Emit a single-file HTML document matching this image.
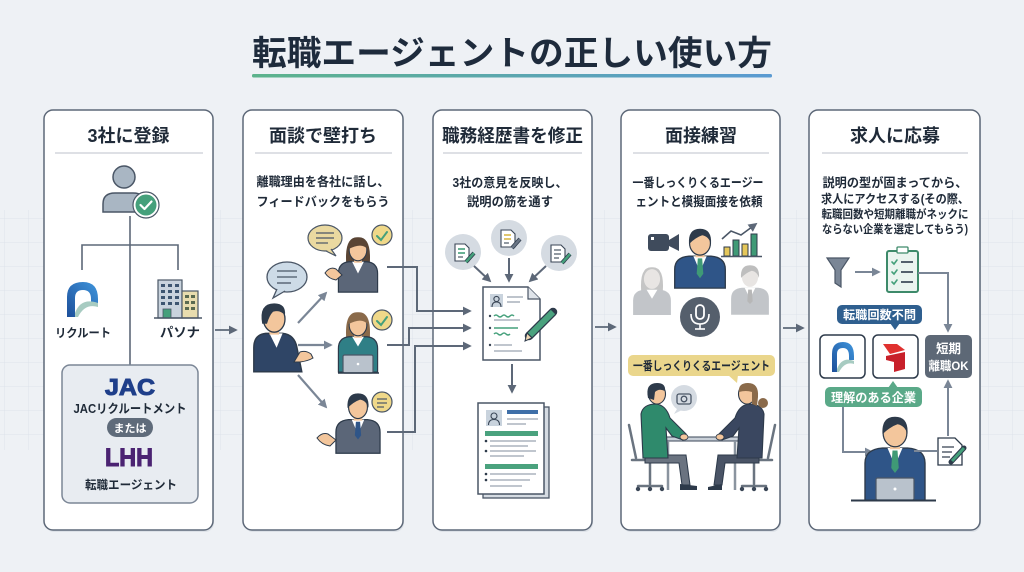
<!DOCTYPE html>
<html><head><meta charset="utf-8">
<style>
html,body{margin:0;padding:0;background:#eef1f5;}
svg{display:block;}
text{font-family:"Liberation Sans","Noto Sans CJK JP",sans-serif;font-weight:bold;fill:#1f2a38;}
</style></head><body>
<svg width="1024" height="572" viewBox="0 0 1024 572" xmlns="http://www.w3.org/2000/svg">
<defs>
<linearGradient id="ul" x1="0" x2="1" y1="0" y2="0"><stop offset="0" stop-color="#5cb38c"/><stop offset="1" stop-color="#5a9ad2"/></linearGradient>
<linearGradient id="rc" x1="0" x2="1" y1="1" y2="0"><stop offset="0" stop-color="#1d4f9a"/><stop offset="1" stop-color="#3f95dc"/></linearGradient>
<pattern id="grid" width="24" height="24" patternUnits="userSpaceOnUse" x="4" y="2"><path d="M24 0 L0 0 0 24" fill="none" stroke="#dde3ea" stroke-width="1"/></pattern>
<marker id="a" viewBox="0 0 10 10" refX="8" refY="5" markerWidth="9" markerHeight="9" markerUnits="userSpaceOnUse" orient="auto"><path d="M0,0 L10,5 L0,10 Z" fill="#5d6878"/></marker>
<marker id="b" viewBox="0 0 10 10" refX="8" refY="5" markerWidth="9" markerHeight="9" markerUnits="userSpaceOnUse" orient="auto"><path d="M0,0 L10,5 L0,10 Z" fill="#7a8696"/></marker>
</defs>

<rect width="1024" height="572" fill="#eef1f5"/>
<rect x="0" y="210" width="1024" height="240" fill="url(#grid)"/>

<!-- Title -->
<text x="512" y="65" text-anchor="middle" font-size="34" textLength="520" lengthAdjust="spacingAndGlyphs" style="fill:#1e2b3c">転職エージェントの正しい使い方</text>
<rect x="252" y="74" width="520" height="3.5" rx="1.5" fill="url(#ul)"/>

<!-- Panels -->
<g fill="#dde2e8">
<rect x="45" y="112" width="169" height="420" rx="9"/>
<rect x="244" y="112" width="160" height="420" rx="9"/>
<rect x="434" y="112" width="159" height="420" rx="9"/>
<rect x="622" y="112" width="159" height="420" rx="9"/>
<rect x="810" y="112" width="171" height="420" rx="9"/>
</g>
<g fill="#ffffff" stroke="#5d6878" stroke-width="1.5">
<rect x="44" y="110" width="169" height="420" rx="9"/>
<rect x="243" y="110" width="160" height="420" rx="9"/>
<rect x="433" y="110" width="159" height="420" rx="9"/>
<rect x="621" y="110" width="159" height="420" rx="9"/>
<rect x="809" y="110" width="171" height="420" rx="9"/>
</g>
<g stroke="#c9ced5" stroke-width="1.2">
<line x1="55" y1="153" x2="203" y2="153"/>
<line x1="255" y1="153" x2="392" y2="153"/>
<line x1="443" y1="153" x2="582" y2="153"/>
<line x1="633" y1="153" x2="769" y2="153"/>
<line x1="822" y1="153" x2="968" y2="153"/>
</g>

<!-- Headers -->
<text x="128.5" y="142" text-anchor="middle" font-size="18">3社に登録</text>
<text x="323" y="142" text-anchor="middle" font-size="18">面談で壁打ち</text>
<text x="512.5" y="142" text-anchor="middle" font-size="18" textLength="141" lengthAdjust="spacingAndGlyphs">職務経歴書を修正</text>
<text x="701" y="142" text-anchor="middle" font-size="18">面接練習</text>
<text x="895" y="142" text-anchor="middle" font-size="18">求人に応募</text>

<!-- Subtexts -->
<text x="323" y="186" text-anchor="middle" font-size="12.5" textLength="133" lengthAdjust="spacingAndGlyphs">離職理由を各社に話し、</text>
<text x="323" y="206" text-anchor="middle" font-size="12.5" textLength="133" lengthAdjust="spacingAndGlyphs">フィードバックをもらう</text>
<text x="510" y="187" text-anchor="middle" font-size="12.5" textLength="115" lengthAdjust="spacingAndGlyphs">3社の意見を反映し、</text>
<text x="510" y="206" text-anchor="middle" font-size="12.5" textLength="86" lengthAdjust="spacingAndGlyphs">説明の筋を通す</text>
<text x="698" y="187" text-anchor="middle" font-size="12.5" textLength="131" lengthAdjust="spacingAndGlyphs">一番しっくりくるエージー</text>
<text x="699" y="206" text-anchor="middle" font-size="12.5" textLength="127" lengthAdjust="spacingAndGlyphs">ェントと模擬面接を依頼</text>
<text x="895" y="187" text-anchor="middle" font-size="12.5" textLength="145" lengthAdjust="spacingAndGlyphs">説明の型が固まってから、</text>
<text x="895" y="203" text-anchor="middle" font-size="12" textLength="148" lengthAdjust="spacingAndGlyphs">求人にアクセスする(その際、</text>
<text x="895" y="218" text-anchor="middle" font-size="11.5" textLength="147" lengthAdjust="spacingAndGlyphs">転職回数や短期離職がネックに</text>
<text x="895" y="233" text-anchor="middle" font-size="11.5" textLength="146" lengthAdjust="spacingAndGlyphs">ならない企業を選定してもらう)</text>

<!-- Between-panel arrows -->
<g stroke="#5d6878" stroke-width="1.8" fill="none">
<line x1="215" y1="330" x2="236" y2="330" marker-end="url(#a)"/>
<line x1="595" y1="327" x2="615" y2="327" marker-end="url(#a)"/>
<line x1="783" y1="328" x2="803" y2="328" marker-end="url(#a)"/>
</g>

<!-- ===== Panel 1 ===== -->
<g stroke="#5d6878" stroke-width="1.6" fill="none">
<path d="M130,216 L130,365"/>
<path d="M82,270 L82,245 L178,245 L178,270"/>
</g>
<circle cx="124" cy="177" r="11" fill="#a9b6c3" stroke="#4a5666" stroke-width="1.5"/>
<path d="M103,212 L103,204 Q103,193 115,193 L133,193 Q145,193 145,204 L145,212 Z" fill="#a9b6c3" stroke="#4a5666" stroke-width="1.5"/>
<circle cx="146" cy="205" r="13" fill="#fff" stroke="#4a5666" stroke-width="1.2"/>
<circle cx="146" cy="205" r="10.5" fill="#45a07b"/>
<path d="M140.5,205 L144.5,209 L151.5,201.5" fill="none" stroke="#fff" stroke-width="2.2" stroke-linecap="round" stroke-linejoin="round"/>

<!-- Recruit logo -->
<path d="M67,317 L67,297 Q67,282 83,282 Q98,282 98,299 L98,305 L91,305 L91,299 Q91,290 83,290 Q75,290 75,298 L75,317 Z" fill="url(#rc)"/>
<path d="M75,313 Q81,297 98,303 L98,307 Q85,303 78,317 L75,317 Z" fill="#a7cbc1"/>
<text x="83" y="337" text-anchor="middle" font-size="12" textLength="56" lengthAdjust="spacingAndGlyphs">リクルート</text>

<!-- Building -->
<rect x="158" y="280" width="24" height="38" fill="#c9d3dd" stroke="#4a5666" stroke-width="1.2"/>
<g fill="#3d5570">
<rect x="161" y="284" width="4" height="3"/><rect x="168" y="284" width="4" height="3"/><rect x="175" y="284" width="4" height="3"/>
<rect x="161" y="290" width="4" height="3"/><rect x="168" y="290" width="4" height="3"/><rect x="175" y="290" width="4" height="3"/>
<rect x="161" y="296" width="4" height="3"/><rect x="168" y="296" width="4" height="3"/><rect x="175" y="296" width="4" height="3"/>
<rect x="161" y="302" width="4" height="3"/><rect x="168" y="302" width="4" height="3"/><rect x="175" y="302" width="4" height="3"/>
</g>
<rect x="182" y="291" width="16" height="27" fill="#e8dcae" stroke="#4a5666" stroke-width="1.2"/>
<g fill="#5a6a50">
<rect x="185" y="295" width="4" height="3"/><rect x="191" y="295" width="4" height="3"/>
<rect x="185" y="301" width="4" height="3"/><rect x="191" y="301" width="4" height="3"/>
<rect x="185" y="307" width="4" height="3"/><rect x="191" y="307" width="4" height="3"/>
</g>
<rect x="163" y="309" width="8" height="9" fill="#45a07b" stroke="#4a5666" stroke-width="0.8"/>
<line x1="154" y1="318" x2="202" y2="318" stroke="#4a5666" stroke-width="1.5"/>
<text x="180" y="337" text-anchor="middle" font-size="13" textLength="40" lengthAdjust="spacingAndGlyphs">パソナ</text>

<!-- JAC box -->
<rect x="62" y="365" width="136" height="138" rx="8" fill="#e8ecf1" stroke="#7b8696" stroke-width="1.5"/>
<text x="130" y="395" text-anchor="middle" font-size="23" textLength="50" lengthAdjust="spacingAndGlyphs" style="fill:#1f3f8a;stroke:#1f3f8a;stroke-width:1;font-family:'Liberation Sans',sans-serif">JAC</text>
<text x="130" y="413" text-anchor="middle" font-size="12.5" textLength="113" lengthAdjust="spacingAndGlyphs">JACリクルートメント</text>
<rect x="107" y="418" width="46" height="19" rx="9.5" fill="#5f6b7a"/>
<text x="130" y="432" text-anchor="middle" font-size="11" style="fill:#fff">または</text>
<text x="129" y="466" text-anchor="middle" font-size="25" textLength="48" lengthAdjust="spacingAndGlyphs" style="fill:#4b2372;stroke:#4b2372;stroke-width:1;font-family:'Liberation Sans',sans-serif">LHH</text>
<text x="131" y="489" text-anchor="middle" font-size="12" textLength="92" lengthAdjust="spacingAndGlyphs">転職エージェント</text>

<!-- ===== Panel 2 ===== -->
<ellipse cx="287" cy="277" rx="20" ry="15" fill="#cddbe7" stroke="#4a5666" stroke-width="1.3"/>
<path d="M277,289 L273,298 L285,291" fill="#cddbe7" stroke="#4a5666" stroke-width="1.3"/>
<g stroke="#4a5666" stroke-width="1.3"><line x1="277" y1="271" x2="297" y2="271"/><line x1="277" y1="277" x2="297" y2="277"/><line x1="277" y1="283" x2="291" y2="283"/></g>

<g transform="translate(273,319) scale(1.2)">
<path d="M-16,44 L-16,24 Q-16,13 -6,12 L8,12 Q18,13 20,24 L24,44 Z" fill="#2f4566" stroke="#2d3a4a" stroke-width="1.2"/>
<path d="M-3,12 L3,24 L8,12 Z" fill="#fff"/>
<rect x="-3" y="6" width="8" height="7" fill="#f3c69c"/>
<ellipse cx="1" cy="0" rx="9" ry="11" fill="#f3c69c" stroke="#2d3a4a" stroke-width="1.1"/>
<path d="M-9,4 Q-12,-13 1,-13 Q11,-13 10,-3 Q6,-8 0,-6 Q-3,-3 -5,4 Z" fill="#2d3a4a"/>
</g>
<path d="M294,362 L300,352 Q306,350 311,354 L313,358 Q308,361 300,362 Z" fill="#f3c69c" stroke="#2d3a4a" stroke-width="1"/>

<g stroke="#7a8696" stroke-width="2.2" fill="none">
<line x1="298" y1="323" x2="326" y2="293" marker-end="url(#b)"/>
<line x1="298" y1="345" x2="331" y2="345" marker-end="url(#b)"/>
<line x1="298" y1="375" x2="326" y2="407" marker-end="url(#b)"/>
</g>

<ellipse cx="325" cy="238" rx="17" ry="13" fill="#ead9a0" stroke="#4a5666" stroke-width="1.2"/>
<path d="M331,249 L336,256 L326,251" fill="#ead9a0" stroke="#4a5666" stroke-width="1.2"/>
<g stroke="#4a5666" stroke-width="1.2"><line x1="316" y1="233" x2="334" y2="233"/><line x1="316" y1="238" x2="334" y2="238"/><line x1="316" y1="243" x2="328" y2="243"/></g>
<g transform="translate(358,250) scale(0.98)">
<path d="M-12,14 Q-14,-14 0,-13 Q14,-14 12,14 Z" fill="#5a4535"/>
<path d="M-20,43 L-20,24 Q-20,13 -9,12 L9,12 Q20,13 20,24 L20,43 Z" fill="#5b6678" stroke="#2d3a4a" stroke-width="1.2"/>
<path d="M-6,12 L0,24 L6,12 Z" fill="#fff"/>
<rect x="-4" y="6" width="8" height="7" fill="#f3c69c"/>
<ellipse cx="0" cy="0" rx="9" ry="11" fill="#f3c69c" stroke="#2d3a4a" stroke-width="1.1"/>
<path d="M-9.5,-1 Q-9,-12 0,-12 Q9,-12 9.5,-1 Q4,-8 -9.5,-1 Z" fill="#5a4535"/>
</g>
<path d="M325,273 Q330,266 336,269 L342,275 L336,280 Q329,279 325,273 Z" fill="#f3c69c" stroke="#2d3a4a" stroke-width="1"/>
<circle cx="382" cy="235" r="10" fill="#efd889" stroke="#4a5666" stroke-width="1.2"/>
<path d="M377,236 L381,240 L387,232" fill="none" stroke="#45a07b" stroke-width="2" stroke-linecap="round"/>

<g transform="translate(358,325) scale(0.98)">
<path d="M-12,14 Q-14,-14 0,-13 Q14,-14 12,14 Z" fill="#8a6a4a"/>
<path d="M-20,48 L-20,24 Q-20,13 -9,12 L9,12 Q20,13 20,24 L20,48 Z" fill="#2f7f86" stroke="#2d3a4a" stroke-width="1.2"/>
<path d="M-6,12 L0,22 L6,12 Z" fill="#fff"/>
<rect x="-4" y="6" width="8" height="7" fill="#f3c69c"/>
<ellipse cx="0" cy="0" rx="9" ry="11" fill="#f3c69c" stroke="#2d3a4a" stroke-width="1.1"/>
<path d="M-9.5,-1 Q-9,-12 0,-12 Q9,-12 9.5,-1 Q4,-8 -9.5,-1 Z" fill="#8a6a4a"/>
</g>
<rect x="343" y="355" width="30" height="18" rx="1.5" fill="#b9c2cc" stroke="#4a5666" stroke-width="1.2"/>
<circle cx="358" cy="364" r="1.3" fill="#fff"/>
<line x1="338" y1="373" x2="379" y2="373" stroke="#2d3a4a" stroke-width="1.5"/>
<circle cx="382" cy="320" r="10" fill="#efd889" stroke="#4a5666" stroke-width="1.2"/>
<path d="M377,321 L381,325 L387,317" fill="none" stroke="#45a07b" stroke-width="2" stroke-linecap="round"/>

<g transform="translate(358,407) scale(1.05)">
<path d="M-21,44 L-21,24 Q-21,13 -9,12 L9,12 Q21,13 21,24 L21,44 Z" fill="#5b6678" stroke="#2d3a4a" stroke-width="1.2"/>
<path d="M-6,12 L0,26 L6,12 Z" fill="#fff"/>
<path d="M-2,14 L2,14 L3,27 L0,31 L-3,27 Z" fill="#2f5588"/>
<rect x="-4" y="6" width="8" height="7" fill="#f3c69c"/>
<ellipse cx="0" cy="0" rx="9" ry="11" fill="#f3c69c" stroke="#2d3a4a" stroke-width="1.1"/>
<path d="M-10,1 Q-11,-13 0,-13 Q11,-13 10,1 Q8,-6 2,-7 Q-4,-5 -10,1 Z" fill="#2d3a4a"/>
</g>
<path d="M317,438 Q322,432 328,434 L336,440 L330,446 Q322,445 317,438 Z" fill="#f3c69c" stroke="#2d3a4a" stroke-width="1"/>
<circle cx="382" cy="402" r="10" fill="#efd889" stroke="#4a5666" stroke-width="1.2"/>
<g stroke="#4a5666" stroke-width="1.2"><line x1="377" y1="399" x2="387" y2="399"/><line x1="377" y1="403" x2="387" y2="403"/><line x1="377" y1="407" x2="384" y2="407"/></g>

<g stroke="#5d6878" stroke-width="2" fill="none">
<path d="M387,267 L417,267 L417,311 L470,311" marker-end="url(#a)"/>
<path d="M387,345 L409,345 L409,328 L470,328" marker-end="url(#a)"/>
<path d="M387,432 L415,432 L415,346 L470,346" marker-end="url(#a)"/>
</g>

<!-- ===== Panel 3 ===== -->
<g fill="#d5dbe2">
<circle cx="463" cy="252" r="18"/><circle cx="509" cy="238" r="18"/><circle cx="559" cy="253" r="18"/>
</g>
<g stroke="#3a4656" stroke-width="1.1">
<path d="M455,244 L465,244 L469,248 L469,261 L455,261 Z" fill="#fff"/>
<line x1="458" y1="249" x2="465" y2="249" stroke="#45a07b" stroke-width="1.6"/>
<line x1="458" y1="253" x2="465" y2="253" stroke="#45a07b" stroke-width="1.6"/>
<line x1="458" y1="257" x2="463" y2="257"/>
<line x1="466" y1="262" x2="474" y2="253" stroke="#2d3a4a" stroke-width="4"/>
<line x1="466" y1="262" x2="474" y2="253" stroke="#45a07b" stroke-width="2.5"/>
<path d="M501,230 L511,230 L515,234 L515,247 L501,247 Z" fill="#fff"/>
<line x1="504" y1="235" x2="511" y2="235" stroke="#d8b84a" stroke-width="1.6"/>
<line x1="504" y1="239" x2="511" y2="239" stroke="#d8b84a" stroke-width="1.6"/>
<line x1="504" y1="243" x2="509" y2="243"/>
<line x1="512" y1="248" x2="520" y2="239" stroke="#2d3a4a" stroke-width="4"/>
<line x1="512" y1="248" x2="520" y2="239" stroke="#6a7686" stroke-width="2.5"/>
<path d="M551,245 L561,245 L565,249 L565,262 L551,262 Z" fill="#fff"/>
<line x1="554" y1="250" x2="561" y2="250"/>
<line x1="554" y1="254" x2="561" y2="254"/>
<line x1="554" y1="258" x2="559" y2="258"/>
<line x1="562" y1="263" x2="570" y2="254" stroke="#2d3a4a" stroke-width="4"/>
<line x1="562" y1="263" x2="570" y2="254" stroke="#45a07b" stroke-width="2.5"/>
</g>
<g stroke="#5d6878" stroke-width="2" fill="none">
<line x1="474" y1="266" x2="490" y2="281" marker-end="url(#a)"/>
<line x1="509" y1="258" x2="509" y2="281" marker-end="url(#a)"/>
<line x1="546" y1="266" x2="530" y2="281" marker-end="url(#a)"/>
</g>
<path d="M483,287 L528,287 L540,299 L540,360 L483,360 Z" fill="#fff" stroke="#4a5666" stroke-width="1.5"/>
<path d="M528,287 L528,299 L540,299" fill="#dfe4ea" stroke="#4a5666" stroke-width="1.2"/>
<rect x="490" y="294" width="13" height="13" fill="#c9d3dd"/>
<circle cx="496.5" cy="299" r="2.6" fill="none" stroke="#3a4656" stroke-width="1.1"/>
<path d="M492,307 Q492,302 496.5,302 Q501,302 501,307" fill="none" stroke="#3a4656" stroke-width="1.1"/>
<g stroke="#9aa4b0" stroke-width="1.3">
<line x1="507" y1="297" x2="523" y2="297"/><line x1="507" y1="302" x2="520" y2="302"/>
<line x1="494" y1="320" x2="520" y2="320"/><line x1="494" y1="345" x2="512" y2="345"/><line x1="494" y1="351" x2="522" y2="351"/>
</g>
<g fill="#3a4656"><circle cx="490" cy="316" r="1.2"/><circle cx="490" cy="328" r="1.2"/><circle cx="490" cy="345" r="1.2"/></g>
<g stroke="#45a07b" stroke-width="1.5" fill="none">
<path d="M494,316 q2,-2 4,0 t4,0 t4,0 t4,0 t4,0"/>
<line x1="494" y1="328" x2="518" y2="328"/>
<path d="M494,334 q2,-2 4,0 t4,0 t4,0 t4,0"/>
</g>
<line x1="529" y1="336" x2="553" y2="312" stroke="#2d3a4a" stroke-width="8.5" stroke-linecap="round"/>
<line x1="530" y1="335" x2="553" y2="312" stroke="#4aa27e" stroke-width="6"/>
<path d="M527,333 L532,338 L525,341 Z" fill="#f0d9b5" stroke="#2d3a4a" stroke-width="1"/>
<line x1="512" y1="364" x2="512" y2="392" stroke="#5d6878" stroke-width="2" marker-end="url(#a)"/>
<rect x="483" y="407" width="66" height="91" fill="#d5dbe2" stroke="#4a5666" stroke-width="1.3"/>
<rect x="478" y="403" width="66" height="91" fill="#fff" stroke="#4a5666" stroke-width="1.5"/>
<rect x="486" y="410" width="16" height="16" fill="#c9d3dd"/>
<circle cx="494" cy="416" r="3" fill="none" stroke="#3a4656" stroke-width="1.1"/>
<path d="M488.5,425 Q488.5,419.5 494,419.5 Q499.5,419.5 499.5,425" fill="none" stroke="#3a4656" stroke-width="1.1"/>
<rect x="507" y="410" width="31" height="4" fill="#3f6fa8"/>
<g stroke="#9aa4b0" stroke-width="1.3">
<line x1="507" y1="419" x2="538" y2="419"/><line x1="507" y1="424" x2="526" y2="424"/>
<line x1="490" y1="441" x2="536" y2="441"/><line x1="490" y1="446" x2="528" y2="446"/><line x1="490" y1="451" x2="536" y2="451"/><line x1="490" y1="456" x2="524" y2="456"/>
<line x1="490" y1="474" x2="536" y2="474"/><line x1="490" y1="480" x2="530" y2="480"/><line x1="490" y1="486" x2="522" y2="486"/>
</g>
<rect x="485" y="431" width="53" height="5" fill="#4aa27e"/>
<rect x="485" y="464" width="53" height="5" fill="#4aa27e"/>
<g fill="#2d3a4a"><circle cx="486" cy="441" r="1.3"/><circle cx="486" cy="451" r="1.3"/><circle cx="486" cy="474" r="1.3"/><circle cx="486" cy="480" r="1.3"/></g>

<!-- ===== Panel 4 ===== -->
<rect x="648" y="234" width="21" height="17" rx="3" fill="#3f4b5c"/>
<path d="M669,240 L679,234 L679,251 L669,246 Z" fill="#3f4b5c"/>
<rect x="651" y="237" width="3" height="3" fill="#fff"/>
<g opacity="0.42">
<g transform="translate(652,279) scale(0.9)">
<path d="M-12,14 Q-14,-14 0,-13 Q14,-14 12,14 Z" fill="#777"/>
<path d="M-21,40 L-21,24 Q-21,13 -9,12 L9,12 Q21,13 21,24 L21,40 Z" fill="#6f7780"/>
<path d="M-6,12 L0,22 L6,12 Z" fill="#fff"/>
<ellipse cx="0" cy="0" rx="9" ry="11" fill="#c9c3be"/>
</g>
<g transform="translate(750,277) scale(0.9)">
<path d="M-21,42 L-21,24 Q-21,13 -9,12 L9,12 Q21,13 21,24 L21,42 Z" fill="#6f7780"/>
<path d="M-6,12 L0,24 L6,12 Z" fill="#fff"/>
<path d="M-2,14 L2,14 L3,27 L0,30 L-3,27 Z" fill="#555"/>
<ellipse cx="0" cy="0" rx="9" ry="11" fill="#c9c3be"/>
<path d="M-10,1 Q-11,-13 0,-13 Q11,-13 10,1 Q8,-6 2,-7 Q-4,-5 -10,1 Z" fill="#666"/>
</g>
</g>
<g transform="translate(700,243) scale(1.1)">
<path d="M-23,41 L-23,24 Q-23,13 -10,12 L10,12 Q23,13 23,24 L23,41 Z" fill="#2f5588" stroke="#2d3a4a" stroke-width="1.2"/>
<path d="M-6,12 L0,26 L6,12 Z" fill="#fff"/>
<path d="M-2,14 L2,14 L3,28 L0,32 L-3,28 Z" fill="#3f9a76"/>
<rect x="-4" y="6" width="8" height="7" fill="#f3c69c"/>
<ellipse cx="0" cy="0" rx="9.5" ry="11" fill="#f3c69c" stroke="#2d3a4a" stroke-width="1.1"/>
<path d="M-10,1 Q-11,-13 0,-13 Q11,-13 10,1 Q8,-6 2,-7 Q-4,-5 -10,1 Z" fill="#2d3a4a"/>
</g>
<g stroke="#2d3a4a" stroke-width="1">
<rect x="724" y="247" width="6" height="9" fill="#e5c75a"/>
<rect x="733" y="240" width="6" height="16" fill="#3f9a76"/>
<rect x="742" y="244" width="6" height="12" fill="#e5c75a"/>
<rect x="751" y="234" width="6" height="22" fill="#3f9a76"/>
</g>
<line x1="721" y1="256.5" x2="762" y2="256.5" stroke="#4a5666" stroke-width="1.5"/>
<polyline points="722,239 731,231 741,235 756,224" fill="none" stroke="#4a5666" stroke-width="1.6" marker-end="url(#a)"/>
<circle cx="700" cy="317" r="20" fill="#555f6c"/>
<rect x="696" y="305" width="8" height="14" rx="4" fill="none" stroke="#fff" stroke-width="1.8"/>
<path d="M691,314 Q691,324 700,324 Q709,324 709,314" fill="none" stroke="#fff" stroke-width="1.6"/>
<line x1="700" y1="324" x2="700" y2="329" stroke="#fff" stroke-width="1.6"/>
<line x1="695" y1="329" x2="705" y2="329" stroke="#fff" stroke-width="1.6"/>
<rect x="628" y="355" width="147" height="21" rx="5" fill="#ead68c"/>
<path d="M728,375 L738,375 L737,383 Z" fill="#ead68c"/>
<text x="701.5" y="370" text-anchor="middle" font-size="12" textLength="137" lengthAdjust="spacingAndGlyphs">一番しっくりくるエージェント</text>
<circle cx="684" cy="398" r="13" fill="#d5dbe2"/>
<path d="M677,409 L674,414 L682,410" fill="#d5dbe2"/>
<rect x="677" y="394" width="14" height="10" rx="2" fill="none" stroke="#4a5666" stroke-width="1.3"/>
<circle cx="684" cy="399" r="2.8" fill="none" stroke="#4a5666" stroke-width="1.3"/>
<rect x="663" y="437" width="77" height="4" fill="#c9d0d8" stroke="#4a5666" stroke-width="1.1"/>
<g stroke="#8a949f" stroke-width="2.5"><line x1="668" y1="441" x2="668" y2="490"/><line x1="735" y1="441" x2="735" y2="490"/></g>
<g stroke="#6a7480" stroke-width="2.5" fill="none" stroke-linecap="round">
<line x1="629" y1="425" x2="636" y2="458"/>
<line x1="632" y1="460" x2="668" y2="460"/>
<line x1="650" y1="460" x2="650" y2="484"/>
<line x1="638" y1="486" x2="662" y2="486"/>
</g>
<g fill="#3a4656"><circle cx="638" cy="489" r="2.2"/><circle cx="650" cy="489" r="2.2"/><circle cx="662" cy="489" r="2.2"/></g>
<path d="M645,455 L686,455 L690,485 L682,485 L679,463 L645,463 Z" fill="#6a7380" stroke="#2d3a4a" stroke-width="1"/>
<path d="M680,484 L697,486 L697,490 L680,490 Z" fill="#2d3a4a"/>
<path d="M641,414 Q643,404 656,404 Q666,405 670,418 L686,434 L683,440 L672,436 L666,428 L668,458 L643,458 Z" fill="#2f8a6c" stroke="#2d3a4a" stroke-width="1.1"/>
<ellipse cx="684" cy="437" rx="4" ry="3" fill="#f3c69c" stroke="#2d3a4a" stroke-width="0.8"/>
<ellipse cx="657" cy="394" rx="8.5" ry="10" fill="#f3c69c" stroke="#2d3a4a" stroke-width="1.1"/>
<path d="M648,398 Q645,383 657,383 Q666,383 665,391 Q659,388 655,392 L654,400 Z" fill="#2d3a4a"/>
<g stroke="#6a7480" stroke-width="2.5" fill="none" stroke-linecap="round">
<line x1="775" y1="425" x2="768" y2="458"/>
<line x1="736" y1="460" x2="772" y2="460"/>
<line x1="754" y1="460" x2="754" y2="484"/>
<line x1="742" y1="486" x2="766" y2="486"/>
</g>
<g fill="#3a4656"><circle cx="742" cy="489" r="2.2"/><circle cx="754" cy="489" r="2.2"/><circle cx="766" cy="489" r="2.2"/></g>
<path d="M759,455 L718,455 L714,485 L722,485 L725,463 L759,463 Z" fill="#4a5466" stroke="#2d3a4a" stroke-width="1"/>
<path d="M722,484 L708,487 L708,490 L722,490 Z" fill="#2d3a4a"/>
<path d="M764,414 Q762,404 749,404 Q739,405 735,418 L719,434 L722,440 L733,436 L739,428 L737,458 L762,458 Z" fill="#3a4760" stroke="#2d3a4a" stroke-width="1.1"/>
<ellipse cx="720" cy="437" rx="4" ry="3" fill="#f3c69c" stroke="#2d3a4a" stroke-width="0.8"/>
<circle cx="763" cy="403" r="5" fill="#8a6a4a"/>
<ellipse cx="747" cy="394" rx="8.5" ry="10" fill="#f3c69c" stroke="#2d3a4a" stroke-width="1.1"/>
<path d="M739,392 Q738,383 748,383 Q759,383 758,397 L757,406 L752,404 L752,392 Q746,390 739,392 Z" fill="#8a6a4a"/>

<!-- ===== Panel 5 ===== -->
<path d="M827,258 L849,258 L841,270 L841,287 L835,283 L835,270 Z" fill="#7a8696" stroke="#4a5666" stroke-width="1.2"/>
<line x1="855" y1="272" x2="879" y2="272" stroke="#7a8696" stroke-width="2" marker-end="url(#b)"/>
<rect x="887" y="251" width="31" height="41" rx="2" fill="#eaf4ef" stroke="#3d8a6a" stroke-width="2"/>
<rect x="897" y="247" width="11" height="6" rx="1" fill="#fff" stroke="#3d8a6a" stroke-width="1.3"/>
<g stroke="#45a07b" stroke-width="1.6" fill="none" stroke-linecap="round">
<path d="M892,262 L894,264 L897,260"/><path d="M892,272 L894,274 L897,270"/><path d="M892,282 L894,284 L897,280"/>
</g>
<g stroke="#2d3a4a" stroke-width="1.6"><line x1="901" y1="262" x2="913" y2="262"/><line x1="901" y1="272" x2="913" y2="272"/><line x1="901" y1="282" x2="913" y2="282"/></g>
<path d="M918,273 L948,273 L948,331" fill="none" stroke="#7a8696" stroke-width="2" marker-end="url(#b)"/>

<rect x="837" y="305" width="85" height="19" rx="5" fill="#2f5f8f"/>
<path d="M890,323 L900,323 L895,330 Z" fill="#2f5f8f"/>
<text x="879.5" y="319" text-anchor="middle" font-size="12" textLength="73" lengthAdjust="spacingAndGlyphs" style="fill:#fff">転職回数不問</text>

<rect x="820" y="335" width="45" height="43" rx="5" fill="#fff" stroke="#2d3a4a" stroke-width="1.5"/>
<path d="M832,372 L832,354 Q832,342 843,342 Q854,342 854,356 L854,360 L849,360 L849,356 Q849,348 843,348 Q837,348 837,354 L837,372 Z" fill="url(#rc)"/>
<path d="M837,369 Q842,356 854,361 L854,364 Q845,361 839,372 L837,372 Z" fill="#a7cbc1"/>
<rect x="873" y="335" width="45" height="43" rx="5" fill="#fff" stroke="#2d3a4a" stroke-width="1.5"/>
<path d="M883,344 L897,344 L905,350 L890,354 Z" fill="#e0312f"/>
<path d="M886,356 L905,352 L905,369 L894,372 L894,362 L886,360 Z" fill="#c8202a"/>

<rect x="925" y="335" width="47" height="43" rx="5" fill="#5d6876"/>
<text x="948.5" y="353" text-anchor="middle" font-size="12.5" style="fill:#fff">短期</text>
<text x="948.5" y="370" text-anchor="middle" font-size="12" textLength="40" lengthAdjust="spacingAndGlyphs" style="fill:#fff">離職OK</text>

<rect x="825" y="387" width="97" height="20" rx="5" fill="#5aa988"/>
<path d="M888,388 L898,388 L893,381 Z" fill="#5aa988"/>
<text x="873.5" y="402" text-anchor="middle" font-size="12.5" textLength="85" lengthAdjust="spacingAndGlyphs" style="fill:#fff">理解のある企業</text>

<path d="M843,407 L843,452 L872,452" fill="none" stroke="#7a8696" stroke-width="2" marker-end="url(#b)"/>

<g transform="translate(895,433) scale(1.25)">
<path d="M-24,54 L-24,24 Q-24,13 -10,12 L10,12 Q24,13 24,24 L24,54 Z" fill="#2f5588" stroke="#2d3a4a" stroke-width="1.1"/>
<path d="M-6,12 L0,26 L6,12 Z" fill="#fff"/>
<path d="M-2,14 L2,14 L3,28 L0,32 L-3,28 Z" fill="#3f9a76"/>
<rect x="-4" y="6" width="8" height="7" fill="#f3c69c"/>
<ellipse cx="0" cy="0" rx="9.5" ry="11" fill="#f3c69c" stroke="#2d3a4a" stroke-width="1"/>
<path d="M-10,1 Q-11,-13 0,-13 Q11,-13 10,1 Q8,-6 2,-7 Q-4,-5 -10,1 Z" fill="#2d3a4a"/>
</g>
<rect x="876" y="478" width="38" height="22" rx="1.5" fill="#b9c2cc" stroke="#4a5666" stroke-width="1.2"/>
<circle cx="895" cy="489" r="1.5" fill="#fff"/>
<line x1="851" y1="500.5" x2="936" y2="500.5" stroke="#2d3a4a" stroke-width="2"/>

<line x1="914" y1="451" x2="937" y2="451" stroke="#7a8696" stroke-width="2"/>
<path d="M938,438 L955,438 L962,445 L962,465 L938,465 Z" fill="#fff" stroke="#2d3a4a" stroke-width="1.3"/>
<g stroke="#2d3a4a" stroke-width="1.2"><line x1="942" y1="447" x2="954" y2="447"/><line x1="942" y1="452" x2="952" y2="452"/><line x1="942" y1="457" x2="950" y2="457"/></g>
<line x1="951" y1="462" x2="964" y2="448" stroke="#2d3a4a" stroke-width="5" stroke-linecap="round"/>
<line x1="952" y1="461" x2="964" y2="448" stroke="#45a07b" stroke-width="3"/>
<line x1="948" y1="436" x2="948" y2="381" stroke="#7a8696" stroke-width="2" marker-end="url(#b)"/>
</svg>
</body></html>
